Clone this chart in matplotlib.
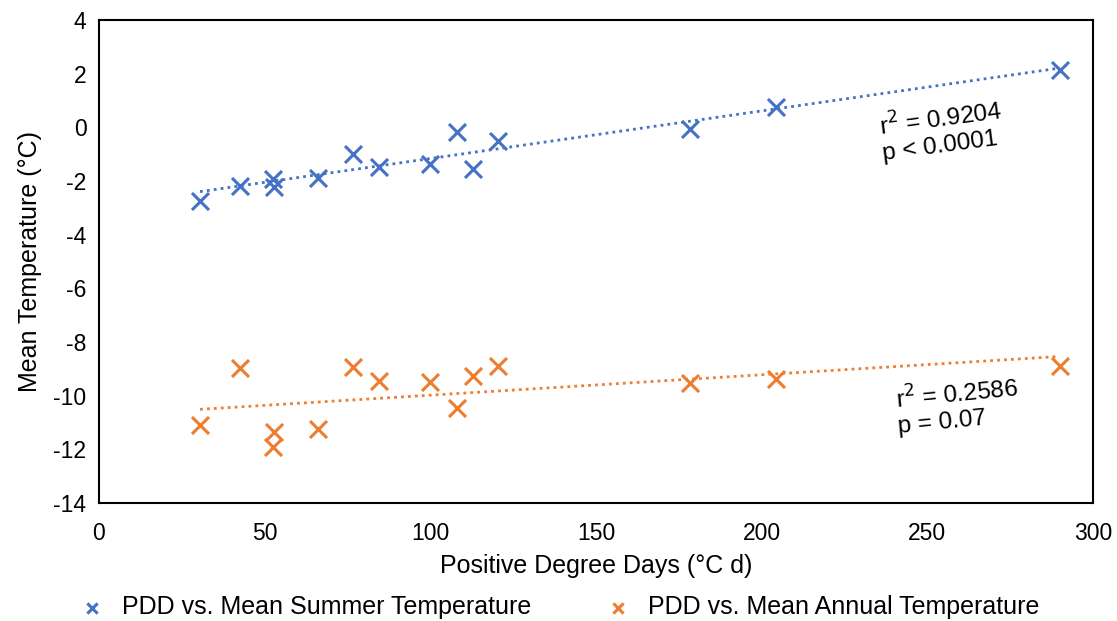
import numpy as np
import matplotlib.pyplot as plt

plt.rcParams['font.family'] = ['Liberation Sans', 'DejaVu Sans']
plt.rcParams['axes.unicode_minus'] = False

# positive degree days (x) for each site
pdd = [30.5, 42.6, 52.5, 52.8, 66.0, 76.8, 84.5, 99.9, 107.9, 112.8, 120.5, 178.4, 204.3, 289.9]
pdd_annual = [30.5, 42.6, 52.8, 52.4, 66.0, 76.8, 84.5, 99.9, 107.9, 112.8, 120.5, 178.4, 204.3, 289.9]

summer_temp = [-2.75, -2.19, -1.91, -2.21, -1.88, -1.0, -1.49, -1.38, -0.16, -1.55, -0.53, -0.06, 0.77, 2.14]
annual_temp = [-11.09, -8.96, -11.34, -11.93, -11.24, -8.92, -9.44, -9.50, -10.45, -9.27, -8.9, -9.53, -9.39, -8.88]

blue = "#4472C4"
orange = "#ED7D31"

fig = plt.figure(figsize=(11.17, 6.21), dpi=100)
ax = fig.add_axes([0.0886, 0.19, 0.89, 0.778])

ax.scatter(pdd, summer_temp, marker="x", s=150, linewidths=2.2, color=blue,
           label="PDD vs. Mean Summer Temperature", zorder=3)
ax.scatter(pdd_annual, annual_temp, marker="x", s=150, linewidths=2.2, color=orange,
           label="PDD vs. Mean Annual Temperature", zorder=3)

# linear trend lines
for xs, ys, c in [(pdd, summer_temp, blue), (pdd_annual, annual_temp, orange)]:
    m, b = np.polyfit(xs, ys, 1)
    xx = np.array([min(xs), max(xs)])
    ax.plot(xx, m * xx + b, linestyle=(0, (1, 1.5)), color=c, linewidth=2, zorder=2)

ax.text(235, 0.5, "r$^2$ = 0.9204\np < 0.0001", fontsize=17.5, rotation=7.5,
        ha="left", va="top", linespacing=1.15, rotation_mode="anchor")
ax.text(240, -9.65, "r$^2$ = 0.2586\np = 0.07", fontsize=17.5, rotation=5.5,
        ha="left", va="top", linespacing=1.15, rotation_mode="anchor")

ax.set_xlim(0, 300)
ax.set_ylim(-14, 4)
ax.set_xticks(range(0, 301, 50))
ax.set_yticks(range(-14, 5, 2))
ax.tick_params(length=0, labelsize=16.5)
ax.tick_params(axis="x", pad=14)
ax.tick_params(axis="y", pad=9)
for s in ax.spines.values():
    s.set_linewidth(1.5)
    s.set_color("black")

ax.set_xlabel("Positive Degree Days (°C d)", fontsize=18, labelpad=6)
ax.set_ylabel("Mean Temperature (°C)", fontsize=18, labelpad=8)

ax.legend(loc="upper center", bbox_to_anchor=(0.457, -0.17), ncol=2, frameon=False,
          fontsize=18, handletextpad=0.2, columnspacing=2.5, scatterpoints=1,
          markerscale=0.6, borderaxespad=0)

fig.savefig("out.png", dpi=100)
